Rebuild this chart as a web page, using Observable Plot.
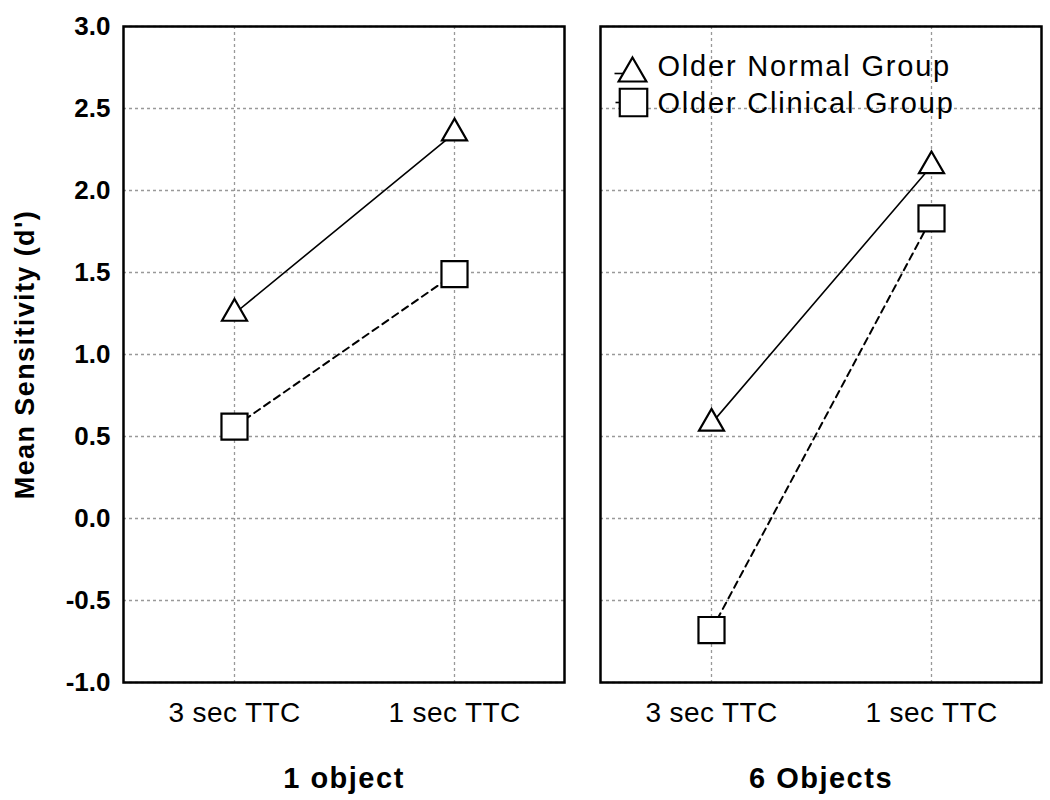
<!DOCTYPE html>
<html><head><meta charset="utf-8">
<script src="https://cdn.jsdelivr.net/npm/d3@7"></script>
<script src="https://cdn.jsdelivr.net/npm/@observablehq/plot@0.6"></script>
<style>
body{margin:0;background:#fff}
svg{font-family:"Liberation Sans",Arial,sans-serif}
g[aria-label="x-axis tick label"] text{letter-spacing:0.4px}
g[aria-label="fx-axis tick label"] text{letter-spacing:1.5px}
.ytitle text{letter-spacing:1.4px}
.legend text{letter-spacing:1.8px}
</style>
</head><body><div id="chart"></div>
<script>
const panels = ["1 object", "6 Objects"];
const conditions = ["3 sec TTC", "1 sec TTC"];
const groups = ["Older Normal Group", "Older Clinical Group"];
const normalOneObject = [1.25, 2.35];
const clinicalOneObject = [0.56, 1.49];
const normalSixObjects = [0.58, 2.15];
const clinicalSixObjects = [-0.68, 1.83];
const yTicks = [3.0, 2.5, 2.0, 1.5, 1.0, 0.5, 0.0, -0.5, -1.0];
const yTitle = "Mean Sensitivity (d')";

const series = [
  {panel: panels[0], group: groups[0], values: normalOneObject},
  {panel: panels[0], group: groups[1], values: clinicalOneObject},
  {panel: panels[1], group: groups[0], values: normalSixObjects},
  {panel: panels[1], group: groups[1], values: clinicalSixObjects}
];
const rows = series.flatMap(s => s.values.map((v, i) => ({panel: s.panel, group: s.group, ttc: conditions[i], value: v})));
const normal = rows.filter(d => d.group === groups[0]);
const clinical = rows.filter(d => d.group === groups[1]);

const stub = {draw(ctx, size){ const r = Math.sqrt(size/Math.PI); ctx.moveTo(-r,0); ctx.lineTo(0,0); }};

const gridStyle = {stroke:"#999", strokeOpacity:1, strokeWidth:1.3, strokeDasharray:"3,3"};

const chart = Plot.plot({
  width: 1050, height: 800,
  marginLeft: 123, marginRight: 8, marginTop: 26, marginBottom: 118,
  style: {background:"#fff", color:"#000", fontFamily:"'Liberation Sans', Arial, sans-serif"},
  fx: {domain: panels, padding: 0.075, label: null},
  x: {domain: conditions, padding: 0.5, label: null},
  y: {domain: [-1, 3], label: null},
  marks: [
    Plot.gridX(conditions, gridStyle),
    Plot.gridY(yTicks, gridStyle),
    Plot.axisY(yTicks, {tickFormat: d => d.toFixed(1), fontSize: 26, fontWeight: "bold", tickSize: 0, tickPadding: 13, label: null}),
    Plot.axisX({tickSize: 0, tickPadding: 20, fontSize: 28, label: null}),
    Plot.axisFx({anchor: "bottom", tickSize: 0, tickPadding: 85, fontSize: 29, fontWeight: "bold", label: null}),
    Plot.text([yTitle], {fx: () => panels[0], text: d => d, frameAnchor: "left", dx: -98, rotate: -90, fontSize: 27, fontWeight: "bold", textAnchor: "middle", lineAnchor: "middle", className: "ytitle"}),
    Plot.line(normal, {fx: "panel", x: "ttc", y: "value", z: "panel", stroke: "#000", strokeWidth: 1.6}),
    Plot.line(clinical, {fx: "panel", x: "ttc", y: "value", z: "panel", stroke: "#000", strokeWidth: 2, strokeDasharray: "7,5"}),
    Plot.dot(normal, {fx: "panel", x: "ttc", y: "value", symbol: "triangle", r: 9.3, fill: "#fff", stroke: "#000", strokeWidth: 2.2}),
    Plot.dot(clinical, {fx: "panel", x: "ttc", y: "value", symbol: "square", r: 14.7, fill: "#fff", stroke: "#000", strokeWidth: 2.2}),
    // legend in right panel
    Plot.dot([groups[0]], {fx: () => panels[1], frameAnchor: "top-left", dx: 32, dy: 47, symbol: stub, r: 18, stroke: "#000", strokeWidth: 1.6}),
    Plot.dot([groups[0]], {fx: () => panels[1], frameAnchor: "top-left", dx: 32, dy: 47, symbol: "triangle", r: 10.3, fill: "#fff", stroke: "#000", strokeWidth: 2.2}),
    Plot.dot([groups[1]], {fx: () => panels[1], frameAnchor: "top-left", dx: 33, dy: 76, symbol: stub, r: 18, stroke: "#000", strokeWidth: 1.6}),
    Plot.dot([groups[1]], {fx: () => panels[1], frameAnchor: "top-left", dx: 33, dy: 76, symbol: "square", r: 15.5, fill: "#fff", stroke: "#000", strokeWidth: 2.2}),
    Plot.text([groups[0]], {fx: () => panels[1], text: d => d, frameAnchor: "top-left", dx: 57, dy: 40, fontSize: 29, textAnchor: "start", lineAnchor: "middle", className: "legend"}),
    Plot.text([groups[1]], {fx: () => panels[1], text: d => d, frameAnchor: "top-left", dx: 57, dy: 77, fontSize: 29, textAnchor: "start", lineAnchor: "middle", className: "legend"}),
    Plot.frame({stroke: "#000", strokeWidth: 2.5})
  ]
});
document.getElementById("chart").appendChild(chart);
</script>
</body></html>
